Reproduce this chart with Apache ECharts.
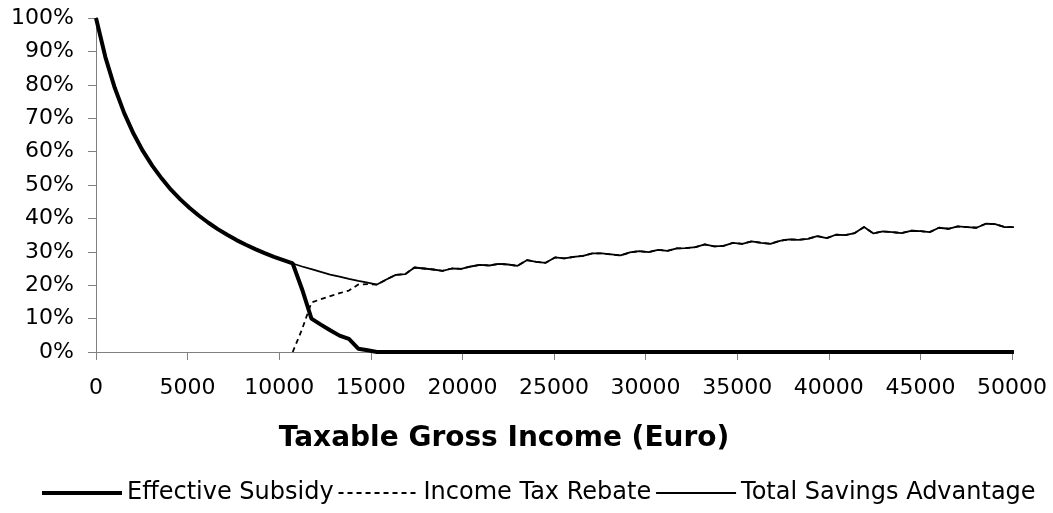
<!DOCTYPE html>
<html>
<head>
<meta charset="utf-8">
<script src="https://cdn.jsdelivr.net/npm/echarts@6/dist/echarts.min.js"></script>
<style>
  html, body { margin: 0; padding: 0; background: #ffffff; }
  #chart { width: 1053px; height: 513px; }
</style>
</head>
<body>
<div id="chart"></div>
<script>
"use strict";

// income steps (Euro)
const incomeEuro = [
    0, 511, 1023, 1534, 2045, 2556, 3068, 3579, 4090, 4602,
    5113, 5624, 6135, 6647, 7158, 7669, 8181, 8692, 9203, 9715,
    10226, 10737, 11248, 11760, 12271, 12782, 13294, 13805, 14316, 14827,
    15339, 15850, 16361, 16873, 17384, 17895, 18406, 18918, 19429, 19940,
    20452, 20963, 21474, 21985, 22497, 23008, 23519, 24031, 24542, 25053,
    25565, 26076, 26587, 27098, 27610, 28121, 28632, 29144, 29655, 30166,
    30677, 31189, 31700, 32211, 32723, 33234, 33745, 34256, 34768, 35279,
    35790, 36302, 36813, 37324, 37835, 38347, 38858, 39369, 39881, 40392,
    40903, 41414, 41926, 42437, 42948, 43460, 43971, 44482, 44993, 45505,
    46016, 46527, 47039, 47550, 48061, 48572, 49084, 49595, 50106
];

// percent values
const effectiveSubsidy = [
    100, 88.3, 79.1, 71.6, 65.4, 60.2, 55.8, 52.0, 48.6, 45.7,
    43.1, 40.8, 38.7, 36.8, 35.1, 33.5, 32.1, 30.8, 29.6, 28.5,
    27.5, 26.5, 18.8, 10.0, 8.2, 6.5, 4.9, 3.9, 1.0, 0.5,
    0, 0, 0, 0, 0, 0, 0, 0, 0, 0,
    0, 0, 0, 0, 0, 0, 0, 0, 0, 0,
    0, 0, 0, 0, 0, 0, 0, 0, 0, 0,
    0, 0, 0, 0, 0, 0, 0, 0, 0, 0,
    0, 0, 0, 0, 0, 0, 0, 0, 0, 0,
    0, 0, 0, 0, 0, 0, 0, 0, 0, 0,
    0, 0, 0, 0, 0, 0, 0, 0, 0
];

const incomeTaxRebate = [
    null, null, null, null, null, null, null, null, null, null,
    null, null, null, null, null, null, null, null, null, null,
    null, 0, 6.8, 14.8, 15.8, 16.7, 17.6, 18.4, 20.2, 20.3,
    20.2, 21.7, 23.1, 23.3, 25.3, 25.0, 24.7, 24.3, 25.0, 24.9,
    25.6, 26.1, 25.9, 26.4, 26.2, 25.8, 27.5, 27.0, 26.7, 28.3,
    28.0, 28.5, 28.8, 29.5, 29.5, 29.2, 28.9, 29.8, 30.2, 29.9,
    30.6, 30.3, 31.0, 31.1, 31.4, 32.2, 31.6, 31.8, 32.7, 32.4,
    33.1, 32.7, 32.4, 33.3, 33.7, 33.6, 33.9, 34.7, 34.1, 35.1,
    35.0, 35.6, 37.4, 35.5, 36.1, 35.9, 35.6, 36.3, 36.2, 35.9,
    37.2, 36.9, 37.6, 37.4, 37.2, 38.4, 38.3, 37.4, 37.4
];

const totalSavingsAdvantage = [
    100, 88.3, 79.1, 71.6, 65.4, 60.2, 55.8, 52.0, 48.6, 45.7,
    43.1, 40.8, 38.7, 36.8, 35.1, 33.5, 32.1, 30.8, 29.6, 28.5,
    27.5, 26.5, 25.6, 24.8, 24.0, 23.2, 22.6, 21.9, 21.3, 20.8,
    20.2, 21.7, 23.1, 23.3, 25.3, 25.0, 24.7, 24.3, 25.0, 24.9,
    25.6, 26.1, 25.9, 26.4, 26.2, 25.8, 27.5, 27.0, 26.7, 28.3,
    28.0, 28.5, 28.8, 29.5, 29.5, 29.2, 28.9, 29.8, 30.2, 29.9,
    30.6, 30.3, 31.0, 31.1, 31.4, 32.2, 31.6, 31.8, 32.7, 32.4,
    33.1, 32.7, 32.4, 33.3, 33.7, 33.6, 33.9, 34.7, 34.1, 35.1,
    35.0, 35.6, 37.4, 35.5, 36.1, 35.9, 35.6, 36.3, 36.2, 35.9,
    37.2, 36.9, 37.6, 37.4, 37.2, 38.4, 38.3, 37.4, 37.4
];

const seriesNames = ["Effective Subsidy", "Income Tax Rebate", "Total Savings Advantage"];
const xAxisTitle = "Taxable Gross Income (Euro)";

const FONT = "DejaVu Sans";
const axisGrey = "#808080";

function pairs(values){
    return incomeEuro.map((x, i) => [x, values[i]]);
}

function lineSeries(name, values, width, type, z){
    return {
        name,
        type: "line",
        data: pairs(values),
        symbol: "none",
        clip: false,
        z,
        connectNulls: false,
        lineStyle: { color: "#000000", width, type },
        itemStyle: { color: "#000000" }
    };
}

const chart = echarts.init(document.getElementById("chart"), null, { renderer: "canvas" });

chart.setOption({
    animation: false,
    backgroundColor: "#ffffff",
    textStyle: { fontFamily: FONT, color: "#000000" },
    grid: { left: 96, right: 41, top: 18, bottom: 161, containLabel: false },
    xAxis: {
        type: "value",
        min: 0,
        max: 50000,
        interval: 5000,
        name: xAxisTitle,
        nameLocation: "middle",
        nameGap: 73,
        nameTextStyle: {
            fontFamily: FONT, fontSize: 28, fontWeight: "bold", color: "#000000",
            verticalAlign: "top", padding: [0, 100, 0, 0]
        },
        axisLine: { lineStyle: { color: axisGrey, width: 1 } },
        axisTick: { show: true, length: 8, lineStyle: { color: axisGrey } },
        axisLabel: { fontFamily: FONT, fontSize: 22, color: "#000000", margin: 25, formatter: v => String(v) },
        splitLine: { show: false }
    },
    yAxis: {
        type: "value",
        min: 0,
        max: 100,
        interval: 10,
        axisLine: { show: true, lineStyle: { color: axisGrey, width: 1 } },
        axisTick: { show: true, length: 8, inside: false, lineStyle: { color: axisGrey } },
        axisLabel: { fontFamily: FONT, fontSize: 22, color: "#000000", margin: 22, formatter: "{value}%" },
        splitLine: { show: false }
    },
    legend: {
        bottom: 3,
        left: 35,
        itemWidth: 80,
        itemHeight: 12,
        itemGap: 4,
        itemStyle: { opacity: 0 },
        lineStyle: { width: "inherit", type: "inherit", color: "#000000" },
        textStyle: { fontFamily: FONT, fontSize: 24, color: "#000000" },
        data: seriesNames
    },
    series: [
        lineSeries(seriesNames[0], effectiveSubsidy, 4, "solid", 3),
        lineSeries(seriesNames[1], incomeTaxRebate, 1.8, [5, 4], 1),
        lineSeries(seriesNames[2], totalSavingsAdvantage, 1.8, "solid", 2)
    ]
});
</script>
</body>
</html>
